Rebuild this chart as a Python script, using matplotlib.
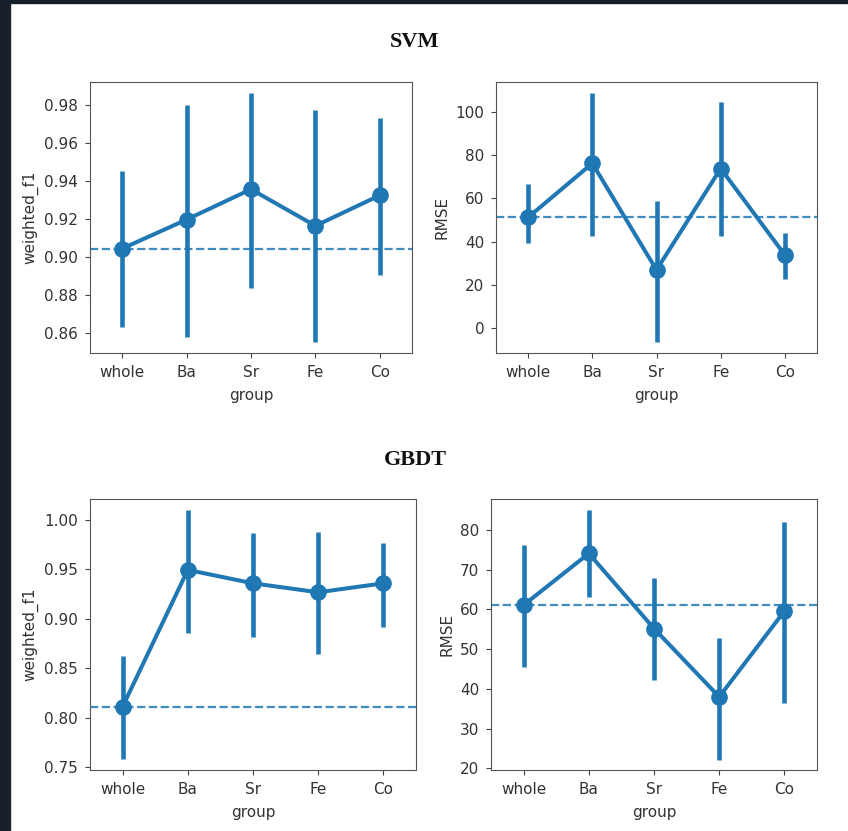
import numpy as np
import matplotlib
matplotlib.use("Agg")
import matplotlib.pyplot as plt
from matplotlib.patches import Rectangle

groups = ["whole", "Ba", "Sr", "Fe", "Co"]

# SVM
svm_f1 = [0.9044, 0.9197, 0.9357, 0.9164, 0.9325]
svm_f1_lo = [0.8631, 0.8579, 0.8837, 0.8552, 0.8907]
svm_f1_hi = [0.9452, 0.9804, 0.9865, 0.9777, 0.9733]
svm_f1_ref = 0.9044

svm_rmse = [51.2, 76.2, 26.9, 73.8, 33.8]
svm_rmse_lo = [39.5, 42.6, -6.2, 42.6, 22.8]
svm_rmse_hi = [66.5, 108.8, 58.8, 104.6, 43.8]
svm_rmse_ref = 51.3

# GBDT
gbdt_f1 = [0.8113, 0.9495, 0.9360, 0.9269, 0.9360]
gbdt_f1_lo = [0.7584, 0.8861, 0.8821, 0.8642, 0.8922]
gbdt_f1_hi = [0.8625, 1.0101, 0.9865, 0.9882, 0.9764]
gbdt_f1_ref = 0.8113

gbdt_rmse = [61.1, 74.1, 55.2, 38.0, 59.6]
gbdt_rmse_lo = [45.4, 63.2, 42.3, 22.2, 36.5]
gbdt_rmse_hi = [76.2, 85.0, 67.9, 52.9, 82.1]
gbdt_rmse_ref = 61.1

W, H = 848, 831
blue = "#1f77b4"
txt = "#333333"

fig = plt.figure(figsize=(W / 100, H / 100), dpi=100)
fig.patch.set_facecolor("white")

# dark screenshot edges
fig.patches.append(Rectangle((0, 0), 10 / W, 1, transform=fig.transFigure,
                             color="#18202b", zorder=0))
fig.patches.append(Rectangle((0, 1 - 3 / H), 1, 3 / H, transform=fig.transFigure,
                             color="#18202b", zorder=0))


def box(left, top, right, bottom):
    return [left / W, (H - bottom) / H, (right - left) / W, (bottom - top) / H]


def panel(rect, mean, lo, hi, ref, ylabel, ylim, yticks, fmt):
    ax = fig.add_axes(rect)
    x = np.arange(len(groups))
    ax.vlines(x, lo, hi, color=blue, lw=3.3, zorder=2)
    ax.plot(x, mean, color=blue, lw=2.9, marker="o", ms=11, zorder=3)
    ax.axhline(ref, color=blue, ls="--", lw=1.6, alpha=0.85, zorder=1)
    ax.set_xlim(-0.5, len(groups) - 0.5)
    ax.set_ylim(*ylim)
    ax.set_xticks(x)
    ax.set_xticklabels(groups)
    ax.set_yticks(yticks)
    ax.set_yticklabels([fmt.format(v) for v in yticks])
    ax.set_xlabel("group", fontsize=11, color=txt, labelpad=6)
    ax.set_ylabel(ylabel, fontsize=11, color=txt, labelpad=4)
    ax.tick_params(labelsize=11, colors="#444444", labelcolor=txt, pad=5)
    for s in ax.spines.values():
        s.set_color("#555555")
    return ax


panel(box(90, 82, 412, 353), svm_f1, svm_f1_lo, svm_f1_hi, svm_f1_ref,
      "weighted_f1", (0.8493, 0.9923), np.arange(0.86, 0.981, 0.02), "{:.2f}")
panel(box(496, 82, 817, 353), svm_rmse, svm_rmse_lo, svm_rmse_hi, svm_rmse_ref,
      "RMSE", (-11.5, 113.8), np.arange(0, 101, 20), "{:.0f}")
panel(box(90, 499, 416, 770), gbdt_f1, gbdt_f1_lo, gbdt_f1_hi, gbdt_f1_ref,
      "weighted_f1", (0.7473, 1.0212), np.arange(0.75, 1.001, 0.05), "{:.2f}")
panel(box(491, 499, 817, 770), gbdt_rmse, gbdt_rmse_lo, gbdt_rmse_hi, gbdt_rmse_ref,
      "RMSE", (19.6, 87.8), np.arange(20, 81, 10), "{:.0f}")

fig.text(415 / W, 1 - 42 / H, "SVM", ha="center", va="center",
         family="Liberation Serif", weight="bold", fontsize=16, color="#111111")
fig.text(415 / W, 1 - 460 / H, "GBDT", ha="center", va="center",
         family="Liberation Serif", weight="bold", fontsize=16, color="#111111")

fig.savefig("out.png", dpi=100)
